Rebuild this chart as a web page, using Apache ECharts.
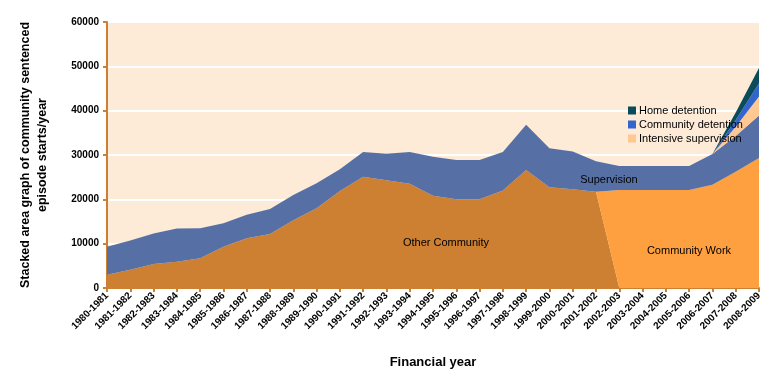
<!DOCTYPE html>
<html>
<head>
<meta charset="utf-8">
<script src="https://cdn.jsdelivr.net/npm/echarts@6/dist/echarts.min.js"></script>
<style>html,body{margin:0;padding:0;background:#fff}#c{width:771px;height:385px}</style>
</head>
<body>
<div id="c"></div>
<script>
const categories = ["1980-1981","1981-1982","1982-1983","1983-1984","1984-1985","1985-1986","1986-1987","1987-1988","1988-1989","1989-1990","1990-1991","1991-1992","1992-1993","1993-1994","1994-1995","1995-1996","1996-1997","1997-1998","1998-1999","1999-2000","2000-2001","2001-2002","2002-2003","2003-2004","2004-2005","2005-2006","2006-2007","2007-2008","2008-2009"];
const otherCommunity = [3000,4100,5400,5900,6700,9300,11200,12200,15300,18000,21900,25100,24300,23500,20800,20000,20000,22000,26600,22700,22300,21700,0,0,0,0,0,0,0];
const communityWork = [0,0,0,0,0,0,0,0,0,0,0,0,0,0,0,0,0,0,0,0,0,0,22100,22100,22100,22100,23300,26200,29300];
const supervision = [6300,6600,6900,7500,6800,5300,5300,5600,5700,5600,4900,5600,6000,7200,8800,8900,8900,8700,10200,8800,8500,6900,5400,5400,5400,5400,6900,8100,9600];
const intensiveSupervision = [0,0,0,0,0,0,0,0,0,0,0,0,0,0,0,0,0,0,0,0,0,0,0,0,0,0,0,2100,4300];
const communityDetention = [0,0,0,0,0,0,0,0,0,0,0,0,0,0,0,0,0,0,0,0,0,0,0,0,0,0,0,1500,3000];
const homeDetention = [0,0,0,0,0,0,0,0,0,0,0,0,0,0,0,0,0,0,0,0,0,0,0,0,0,0,0,1700,3400];
const yTicks = {min:0, max:60000, interval:10000};

const FONT = "'Liberation Sans', Arial, sans-serif";
function area(name, data, color) {
  return {name, type:'line', stack:'total', data, symbol:'none', smooth:false,
    lineStyle:{width:0}, areaStyle:{color, opacity:1}, itemStyle:{color}, emphasis:{disabled:true}};
}
const chart = echarts.init(document.getElementById('c'), null, {renderer:'canvas'});
chart.setOption({
  animation:false,
  backgroundColor:'#ffffff',
  textStyle:{fontFamily:FONT},
  grid:{left:107, right:12, top:22, bottom:97, show:true, backgroundColor:'#FDEAD7', borderWidth:0},
  legend:{
    data:['Home detention','Community detention','Intensive supervision'],
    orient:'vertical', left:623, top:100, itemWidth:8, itemHeight:8, itemGap:3,
    icon:'rect', textStyle:{fontFamily:FONT, fontSize:11, color:'#000', padding:[0,0,0,-2]},
    selectedMode:false, z:100
  },
  xAxis:{
    type:'category', data:categories, boundaryGap:false,
    axisLine:{lineStyle:{color:'#CD7F32', width:2}},
    axisTick:{show:true, alignWithLabel:true, length:4, lineStyle:{color:'#CD7F32', width:2}},
    axisLabel:{rotate:45, interval:0, fontSize:10, fontWeight:'bold', color:'#000', fontFamily:FONT, margin:6},
    splitLine:{show:false},
    name:'Financial year', nameLocation:'middle', nameGap:68,
    nameTextStyle:{fontSize:13, fontWeight:'bold', color:'#000', fontFamily:FONT}
  },
  yAxis:{
    type:'value', min:yTicks.min, max:yTicks.max, interval:yTicks.interval,
    axisLine:{show:true, lineStyle:{color:'#CD7F32', width:2}},
    axisTick:{show:true, length:4, lineStyle:{color:'#CD7F32', width:2}},
    axisLabel:{fontSize:10, fontWeight:'bold', color:'#000', fontFamily:FONT, margin:8, formatter:(v)=>String(v)},
    splitLine:{show:true, lineStyle:{color:'#ffffff', width:2}},
    name:'Stacked area graph of community sentenced\nepisode starts/year', nameLocation:'middle', nameGap:56,
    nameTextStyle:{fontSize:12.5, fontWeight:'bold', color:'#000', fontFamily:FONT, lineHeight:17}
  },
  series:[
    area('Other Community', otherCommunity, '#CD7F32'),
    area('Community Work', communityWork, '#FFA040'),
    area('Supervision', supervision, '#5670A6'),
    area('Intensive supervision', intensiveSupervision, '#FFC893'),
    area('Community detention', communityDetention, '#3366CC'),
    area('Home detention', homeDetention, '#0B4C5C')
  ],
  graphic:{elements:[
    {type:'text', z:100, x:446, y:243, style:{text:'Other Community', font:"11px "+FONT, fill:'#000', textAlign:'center', textVerticalAlign:'middle'}},
    {type:'text', z:100, x:609, y:180, style:{text:'Supervision', font:"11px "+FONT, fill:'#000', textAlign:'center', textVerticalAlign:'middle'}},
    {type:'text', z:100, x:689, y:251, style:{text:'Community Work', font:"11px "+FONT, fill:'#000', textAlign:'center', textVerticalAlign:'middle'}}
  ]}
});
</script>
</body>
</html>
